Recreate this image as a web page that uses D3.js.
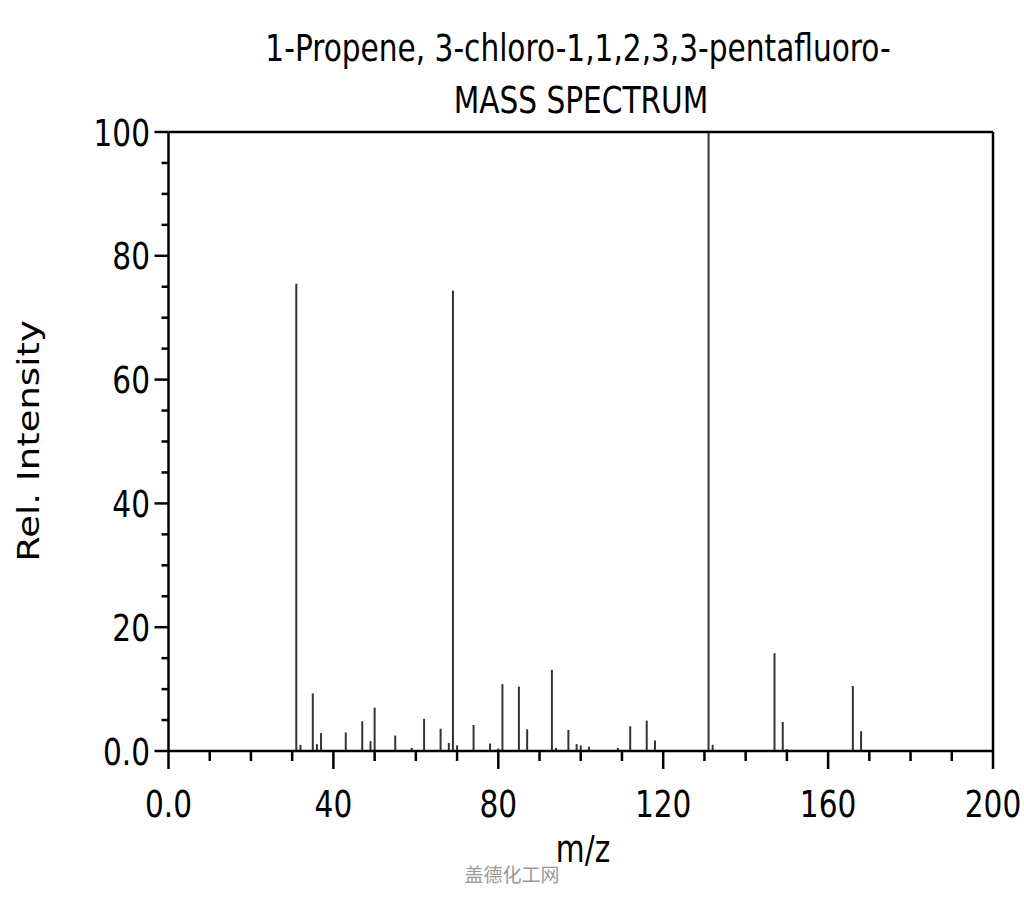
<!DOCTYPE html>
<html><head><meta charset="utf-8">
<script src="https://cdn.jsdelivr.net/npm/d3@7"></script>
<style>body{margin:0;background:#fff}svg{display:block}</style>
</head><body>
<script>
const titleLines = ["1-Propene, 3-chloro-1,1,2,3,3-pentafluoro-", "MASS SPECTRUM"];
const mz = [31,32,35,36,37,43,47,49,50,55,59,62,66,68,69,70,74,78,80,81,85,87,93,94,97,99,100,102,109,112,116,118,131,132,147,149,150,166,168];
const intensity = [75.5,1.0,9.3,1.1,2.9,3.0,4.8,1.6,7.0,2.5,0.5,5.2,3.6,1.3,74.4,0.9,4.2,1.2,0.4,10.8,10.4,3.5,13.1,0.5,3.4,1.1,0.9,0.7,0.5,4.0,4.9,1.7,100,1.0,15.8,4.7,0.3,10.5,3.2];
const xMajor = [0,40,80,120,160,200];
const xMajorLabels = ["0.0","40","80","120","160","200"];
const xMinor = [10,20,30,50,60,70,90,100,110,130,140,150,170,180,190];
const yMajor = [0,20,40,60,80,100];
const yMajorLabels = ["0.0","20","40","60","80","100"];
const yMinor = [5,10,15,25,30,35,45,50,55,65,70,75,85,90,95];

const W = 1024, H = 900;
const svg = d3.select("body").append("svg").attr("width", W).attr("height", H);
const x = d3.scaleLinear().domain([0,200]).range([168.5, 993]);
const y = d3.scaleLinear().domain([0,100]).range([751, 132]);
const FS = 29.6, SY = 1.25, FONT = "DejaVu Sans";

function label(px, py, txt, anchor) {
  svg.append("g").attr("transform", `translate(${px},${py}) scale(1,${SY})`)
    .append("text").attr("x",0).attr("y",0).attr("text-anchor", anchor)
    .attr("font-family", FONT).attr("font-size", FS).attr("fill","#000").text(txt);
}

// peaks
svg.append("g").selectAll("line").data(mz).join("line")
  .attr("x1", d => x(d)).attr("x2", d => x(d))
  .attr("y1", y(0)).attr("y2", (d,i) => y(intensity[i]))
  .attr("stroke", "#333").attr("stroke-width", 2);

const ax = svg.append("g").attr("stroke","#000").attr("stroke-width",2.5).attr("fill","none");
// frame
ax.append("line").attr("x1", x(0)).attr("x2", x(0)).attr("y1", y(100)).attr("y2", y(0));
ax.append("line").attr("x1", x(200)).attr("x2", x(200)).attr("y1", y(100)).attr("y2", y(0));
ax.append("line").attr("x1", x(0)).attr("x2", x(200)).attr("y1", y(0)).attr("y2", y(0));
ax.append("line").attr("x1", x(0)).attr("x2", x(200)).attr("y1", y(100)).attr("y2", y(100));
// x ticks
ax.selectAll(".xM").data(xMajor).join("line").attr("x1", d=>x(d)).attr("x2", d=>x(d)).attr("y1", y(0)).attr("y2", y(0)+18);
ax.selectAll(".xm").data(xMinor).join("line").attr("class","xm").attr("x1", d=>x(d)).attr("x2", d=>x(d)).attr("y1", y(0)).attr("y2", y(0)+10);
// y ticks
ax.selectAll(".yM").data(yMajor).join("line").attr("class","yM").attr("x1", x(0)-14).attr("x2", x(0)).attr("y1", d=>y(d)).attr("y2", d=>y(d));
ax.selectAll(".ym").data(yMinor).join("line").attr("class","ym").attr("x1", x(0)-7).attr("x2", x(0)).attr("y1", d=>y(d)).attr("y2", d=>y(d));

xMajor.forEach((d,i) => label(x(d), 817, xMajorLabels[i], "middle"));
yMajor.forEach((d,i) => label(150, y(d)+13.5, yMajorLabels[i], "end"));

label(578, 61, titleLines[0], "middle");
label(581, 113, titleLines[1], "middle");
label(583, 862, "m/z", "middle");

svg.append("g").attr("transform", `translate(39,441) rotate(-90) scale(1.25,1)`)
  .append("text").attr("text-anchor","middle").attr("font-family", FONT).attr("font-size", 29.6).text("Rel. Intensity");

svg.append("text").attr("x", 512).attr("y", 882).attr("text-anchor","middle")
  .attr("font-family","Noto Sans CJK SC").attr("font-size",19).attr("fill","#999").text("盖德化工网");
</script>
</body></html>
